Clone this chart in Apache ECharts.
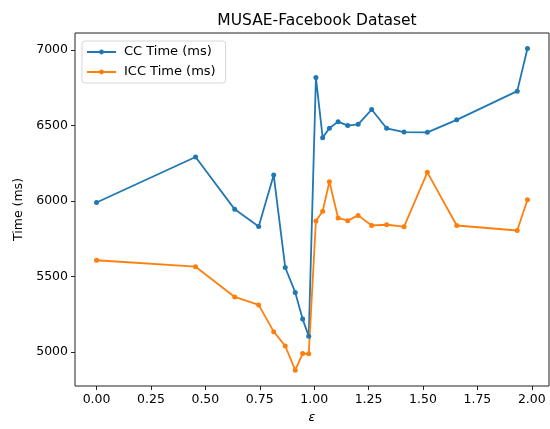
<!DOCTYPE html>
<html>
<head>
<meta charset="utf-8">
<script src="https://cdn.jsdelivr.net/npm/echarts@6/dist/echarts.min.js"></script>
<style>
  html, body { margin: 0; padding: 0; background: #fff; }
  #chart { width: 550px; height: 429px; }
</style>
</head>
<body>
<div id="chart"></div>
<script>
// epsilon values (shared by both series)
const epsilons = [0, 0.455, 0.635, 0.745, 0.814, 0.867, 0.913, 0.947, 0.975, 1.008, 1.039,
  1.070, 1.110, 1.154, 1.202, 1.264, 1.333, 1.413, 1.520, 1.655, 1.933, 1.980];
const ccTime = [5990, 6292, 5945, 5832, 6172, 5560, 5395, 5218, 5105, 6818, 6420,
  6482, 6526, 6500, 6508, 6606, 6482, 6457, 6455, 6538, 6728, 7010];
const iccTime = [5608, 5565, 5365, 5312, 5135, 5040, 4880, 4990, 4988, 5868, 5932,
  6128, 5888, 5870, 5905, 5838, 5843, 5830, 6190, 5838, 5805, 6008];
const xTicks = [0, 0.25, 0.5, 0.75, 1, 1.25, 1.5, 1.75, 2];
const yTicks = [5000, 5500, 6000, 6500, 7000];

const font = "DejaVu Sans";
const pair = (xs, ys) => xs.map((x, i) => [x, ys[i]]);

const chart = echarts.init(document.getElementById("chart"));
chart.setOption({
  animation: false,
  textStyle: { fontFamily: font },
  title: {
    text: "MUSAE-Facebook Dataset",
    left: 312,
    top: 8,
    textAlign: "center",
    textStyle: { fontFamily: font, fontSize: 15.5, fontWeight: "normal", color: "#000" },
  },
  legend: {
    orient: "vertical",
    left: 82,
    top: 41,
    padding: [4, 10, 4, 4],
    itemWidth: 29,
    itemHeight: 6,
    itemGap: 6,
    borderColor: "#d6d6d6",
    borderWidth: 1,
    borderRadius: 3,
    textStyle: { fontFamily: font, fontSize: 13, color: "#000", padding: [0, 0, 0, 3], lineHeight: 14 },
    data: ["CC Time (ms)", "ICC Time (ms)"],
  },
  grid: {
    left: 75,
    right: 1,
    top: 33,
    bottom: 43,
    show: true,
    borderColor: "#222",
    borderWidth: 1,
  },
  xAxis: {
    type: "value",
    min: -0.099,
    max: 2.079,
    name: "ε",
    nameLocation: "middle",
    nameGap: 24,
    nameTextStyle: { fontFamily: font, fontSize: 12.5, fontStyle: "italic", color: "#000" },
    splitLine: { show: false },
    axisLine: { show: false, onZero: false },
    axisTick: { show: true, customValues: xTicks, length: 4, lineStyle: { color: "#222" } },
    axisLabel: {
      customValues: xTicks,
      margin: 7,
      fontSize: 12.5,
      color: "#000",
      formatter: (v) => v.toFixed(2),
    },
  },
  yAxis: {
    type: "value",
    min: 4775,
    max: 7113,
    name: "Time (ms)",
    nameLocation: "middle",
    nameGap: 50,
    nameTextStyle: { fontFamily: font, fontSize: 12.5, color: "#000" },
    splitLine: { show: false },
    axisLine: { show: false, onZero: false },
    axisTick: { show: true, customValues: yTicks, length: 4, lineStyle: { color: "#222" } },
    axisLabel: {
      customValues: yTicks,
      margin: 7,
      fontSize: 12.5,
      color: "#000",
      formatter: (v) => String(v),
    },
  },
  series: [
    {
      name: "CC Time (ms)",
      type: "line",
      data: pair(epsilons, ccTime),
      symbol: "circle",
      symbolSize: 5,
      color: "#1f77b4",
      lineStyle: { width: 1.8, color: "#1f77b4" },
      itemStyle: { color: "#1f77b4" },
    },
    {
      name: "ICC Time (ms)",
      type: "line",
      data: pair(epsilons, iccTime),
      symbol: "circle",
      symbolSize: 5,
      color: "#ff7f0e",
      lineStyle: { width: 1.8, color: "#ff7f0e" },
      itemStyle: { color: "#ff7f0e" },
    },
  ],
});
</script>
</body>
</html>
